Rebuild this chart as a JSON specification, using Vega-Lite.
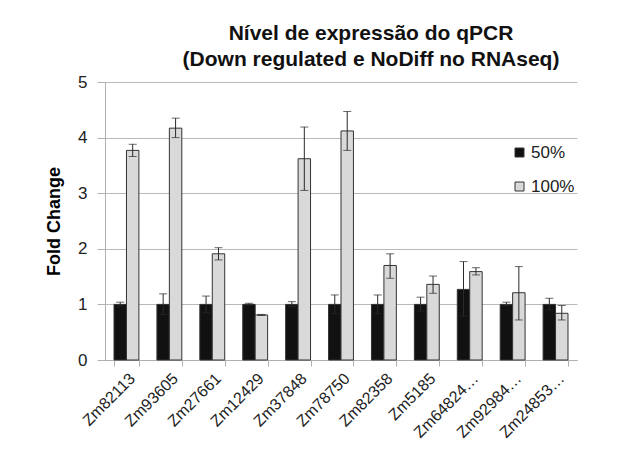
{
  "$schema": "https://vega.github.io/schema/vega-lite/v6.json",
  "width": 472,
  "height": 278,
  "autosize": {"type": "none"},
  "padding": {"left": 105, "top": 82, "right": 58, "bottom": 90},
  "background": "white",
  "title": {
    "text": ["Nível de expressão do qPCR", "(Down regulated e NoDiff no RNAseq)"],
    "font": "Liberation Sans",
    "fontSize": 21,
    "fontWeight": "bold",
    "color": "#111111",
    "anchor": "middle",
    "frame": "group",
    "dx": 30,
    "lineHeight": 26,
    "offset": 3
  },
  "config": {
    "font": "Liberation Sans",
    "view": {"stroke": null},
    "axis": {
      "gridColor": "#b9b9b9",
      "domainColor": "#b0b0b0",
      "tickColor": "#b0b0b0",
      "labelFont": "Liberation Sans",
      "labelColor": "#222222",
      "titleFont": "Liberation Sans"
    }
  },
  "data": {
    "values": [
      {"gene": "Zm82113", "group": "50%", "value": 1.0, "lo": 0.97, "hi": 1.04},
      {"gene": "Zm82113", "group": "100%", "value": 3.77, "lo": 3.66, "hi": 3.88},
      {"gene": "Zm93605", "group": "50%", "value": 1.0, "lo": 0.82, "hi": 1.19},
      {"gene": "Zm93605", "group": "100%", "value": 4.17, "lo": 4.0, "hi": 4.35},
      {"gene": "Zm27661", "group": "50%", "value": 1.0, "lo": 0.85, "hi": 1.15},
      {"gene": "Zm27661", "group": "100%", "value": 1.91, "lo": 1.8, "hi": 2.02},
      {"gene": "Zm12429", "group": "50%", "value": 1.0, "lo": 0.99, "hi": 1.02},
      {"gene": "Zm12429", "group": "100%", "value": 0.81, "lo": 0.8, "hi": 0.82},
      {"gene": "Zm37848", "group": "50%", "value": 1.0, "lo": 0.96, "hi": 1.05},
      {"gene": "Zm37848", "group": "100%", "value": 3.62, "lo": 3.05, "hi": 4.19},
      {"gene": "Zm78750", "group": "50%", "value": 1.0, "lo": 0.83, "hi": 1.17},
      {"gene": "Zm78750", "group": "100%", "value": 4.12, "lo": 3.77, "hi": 4.47},
      {"gene": "Zm82358", "group": "50%", "value": 1.0, "lo": 0.83, "hi": 1.17},
      {"gene": "Zm82358", "group": "100%", "value": 1.7, "lo": 1.47, "hi": 1.91},
      {"gene": "Zm5185", "group": "50%", "value": 1.0, "lo": 0.88, "hi": 1.13},
      {"gene": "Zm5185", "group": "100%", "value": 1.36, "lo": 1.2, "hi": 1.51},
      {"gene": "Zm64824…", "group": "50%", "value": 1.27, "lo": 0.79, "hi": 1.77},
      {"gene": "Zm64824…", "group": "100%", "value": 1.59, "lo": 1.53, "hi": 1.66},
      {"gene": "Zm92984…", "group": "50%", "value": 1.0, "lo": 0.98, "hi": 1.04},
      {"gene": "Zm92984…", "group": "100%", "value": 1.21, "lo": 0.72, "hi": 1.68},
      {"gene": "Zm24853…", "group": "50%", "value": 1.0, "lo": 0.9, "hi": 1.11},
      {"gene": "Zm24853…", "group": "100%", "value": 0.84, "lo": 0.72, "hi": 0.98}
    ]
  },
  "encoding": {
    "x": {
      "field": "gene",
      "type": "nominal",
      "sort": null,
      "scale": {"paddingInner": 0.42, "paddingOuter": 0.21},
      "axis": {
        "title": null,
        "labelAngle": -45,
        "labelFontSize": 16,
        "labelPadding": 4,
        "tickBand": "extent",
        "tickSize": 6,
        "domainColor": "#b0b0b0"
      }
    },
    "xOffset": {
      "field": "group",
      "type": "nominal",
      "sort": ["50%", "100%"],
      "scale": {"paddingInner": 0, "paddingOuter": 0}
    }
  },
  "layer": [
    {
      "mark": {"type": "bar", "stroke": "#333333", "strokeWidth": 1},
      "encoding": {
        "y": {
          "field": "value",
          "type": "quantitative",
          "scale": {"domain": [0, 5], "nice": false},
          "axis": {
            "values": [0, 1, 2, 3, 4, 5],
            "title": "Fold Change",
            "titleFontSize": 18,
            "titleFontWeight": "bold",
            "titleColor": "#000000",
            "titlePadding": 14,
            "labelFontSize": 17,
            "labelPadding": 10,
            "tickSize": 8,
            "grid": true
          }
        },
        "color": {
          "field": "group",
          "type": "nominal",
          "sort": ["50%", "100%"],
          "scale": {"domain": ["50%", "100%"], "range": ["#111111", "#d9d9d9"]},
          "legend": {
            "title": null,
            "orient": "none",
            "legendX": 406,
            "legendY": 62,
            "symbolType": "square",
            "symbolSize": 81,
            "symbolStrokeColor": "#333333",
            "symbolStrokeWidth": 1,
            "labelFontSize": 17,
            "labelFont": "Liberation Sans",
            "labelColor": "#222222",
            "labelOffset": 3,
            "rowPadding": 16
          }
        }
      }
    },
    {
      "mark": {"type": "rule", "color": "#2a2a2a", "strokeWidth": 1},
      "encoding": {
        "y": {"field": "lo", "type": "quantitative"},
        "y2": {"field": "hi"}
      }
    },
    {
      "mark": {"type": "tick", "color": "#2a2a2a", "size": 8, "thickness": 1},
      "encoding": {"y": {"field": "hi", "type": "quantitative"}}
    },
    {
      "mark": {"type": "tick", "color": "#2a2a2a", "size": 8, "thickness": 1},
      "encoding": {"y": {"field": "lo", "type": "quantitative"}}
    }
  ]
}
